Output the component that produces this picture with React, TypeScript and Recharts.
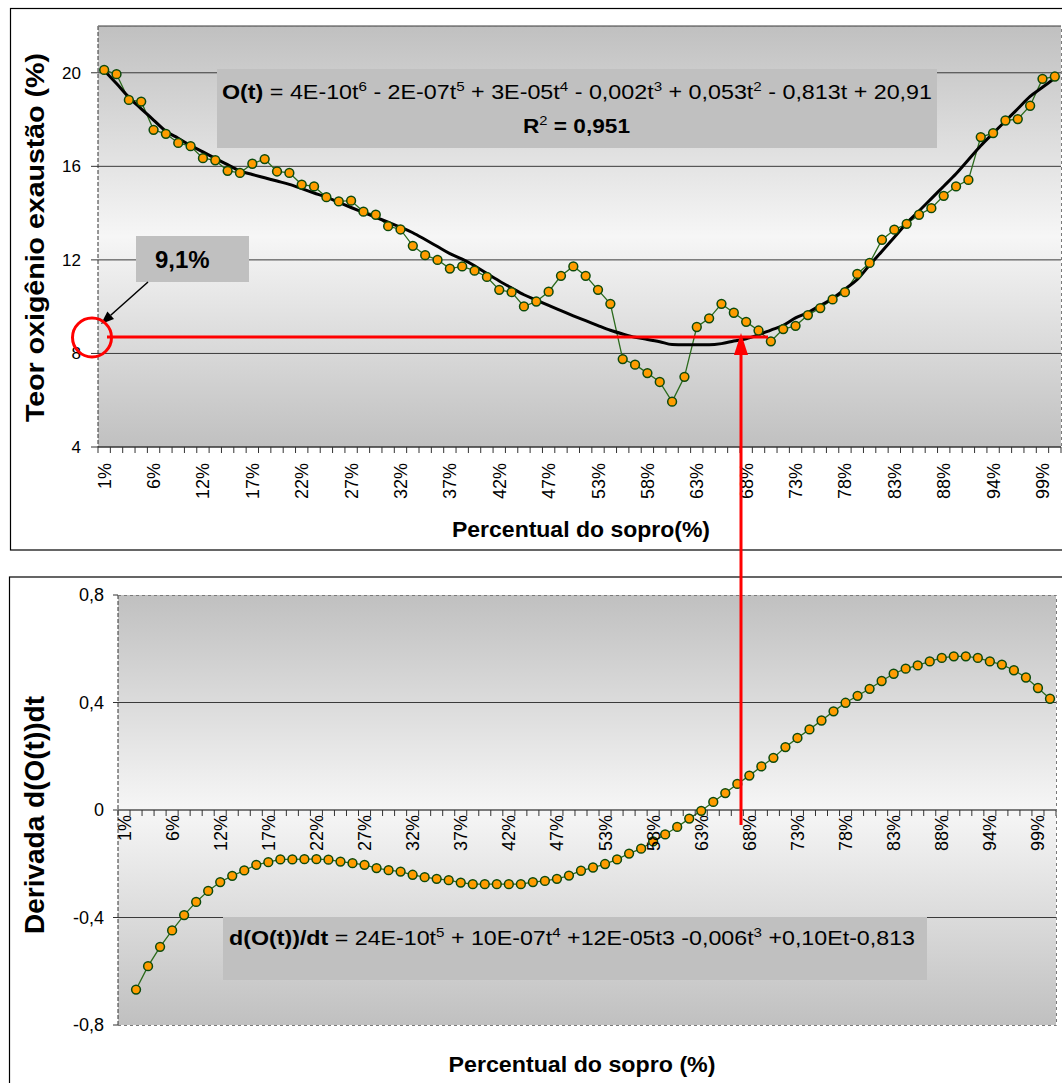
import React from 'react';
import { ComposedChart, Line, XAxis, YAxis, CartesianGrid, ReferenceLine } from 'recharts';

// category labels shown on the x axes (every 4th category)
const tickLabels = ['1%', '6%', '12%', '17%', '22%', '27%', '32%', '37%', '42%', '47%', '53%', '58%', '63%', '68%', '73%', '78%', '83%', '88%', '94%', '99%'];

// oxygen content in the exhaust (%), one value per category
const oxygen = [
  20.12, 19.94, 18.84, 18.77, 17.56, 17.39, 17.0, 16.86, 16.35, 16.26,
  15.81, 15.72, 16.11, 16.31, 15.78, 15.72, 15.22, 15.14, 14.68, 14.5,
  14.53, 14.06, 13.93, 13.44, 13.3, 12.6, 12.2, 12.0, 11.63, 11.72,
  11.54, 11.27, 10.72, 10.62, 10.01, 10.22, 10.64, 11.32, 11.72, 11.32,
  10.72, 10.12, 7.76, 7.52, 7.16, 6.78, 5.94, 7.0, 9.13, 9.5,
  10.12, 9.74, 9.35, 8.98, 8.52, 9.04, 9.18, 9.64, 9.94, 10.31,
  10.62, 11.4, 11.87, 12.86, 13.29, 13.54, 13.93, 14.21, 14.74, 15.14,
  15.42, 17.25, 17.42, 17.96, 18.02, 18.59, 19.74, 19.84,
];

// polynomial trend line as drawn
const trend = [
  20.1, 19.54, 18.95, 18.46, 17.98, 17.5, 17.2, 16.89, 16.62, 16.34,
  16.07, 15.8, 15.65, 15.51, 15.37, 15.23, 15.05, 14.86, 14.68, 14.46,
  14.24, 14.03, 13.82, 13.61, 13.4, 13.16, 12.87, 12.57, 12.27, 12.03,
  11.75, 11.42, 11.1, 10.8, 10.51, 10.28, 10.05, 9.83, 9.61, 9.4,
  9.19, 8.99, 8.83, 8.69, 8.6, 8.5, 8.38, 8.37, 8.37, 8.37,
  8.42, 8.53, 8.63, 8.8, 9.0, 9.2, 9.52, 9.75, 10.05, 10.35,
  10.75, 11.16, 11.78, 12.37, 12.97, 13.57, 14.09, 14.62, 15.15, 15.68,
  16.28, 16.88, 17.41, 17.94, 18.46, 18.99, 19.38, 19.77,
];

// derivative d(O(t))/dt, first category empty
const derivative = [
  null, -0.668, -0.581, -0.509, -0.448, -0.391, -0.342, -0.301, -0.268, -0.245,
  -0.225, -0.204, -0.194, -0.184, -0.184, -0.183, -0.183, -0.185, -0.192, -0.198,
  -0.204, -0.216, -0.224, -0.229, -0.241, -0.25, -0.256, -0.261, -0.27, -0.276,
  -0.276, -0.276, -0.276, -0.276, -0.268, -0.264, -0.256, -0.244, -0.226, -0.214,
  -0.201, -0.184, -0.162, -0.144, -0.117, -0.091, -0.063, -0.032, -0.003, 0.03,
  0.063, 0.097, 0.128, 0.162, 0.194, 0.234, 0.268, 0.3, 0.333, 0.367,
  0.399, 0.425, 0.451, 0.48, 0.507, 0.526, 0.538, 0.553, 0.566, 0.572,
  0.572, 0.566, 0.553, 0.541, 0.52, 0.493, 0.454, 0.414,
];

const topTicksY = [4, 8, 12, 16, 20];
const botTicksY = [-0.8, -0.4, 0, 0.4, 0.8];
const botGrid = [-0.4, 0.4];

// equation texts: [kind, text]  b = bold, n = normal, s = superscript
const topEquation: [string, string][] = [
  ['b', 'O(t)'], ['n', ' = 4E-10t'], ['s', '6'], ['n', ' - 2E-07t'], ['s', '5'],
  ['n', ' + 3E-05t'], ['s', '4'], ['n', ' - 0,002t'], ['s', '3'], ['n', ' + 0,053t'], ['s', '2'],
  ['n', ' - 0,813t + 20,91'],
];
const r2Text: [string, string][] = [['b', 'R'], ['s', '2'], ['b', ' = 0,951']];
const derivEquation: [string, string][] = [
  ['b', 'd(O(t))/dt'], ['n', ' = 24E-10t'], ['s', '5'], ['n', ' + 10E-07t'], ['s', '4'],
  ['n', ' +12E-05t3 -0,006t'], ['s', '3'], ['n', ' +0,10Et-0,813'],
];

const FONT = '"Liberation Sans", Arial, Helvetica, sans-serif';
const N = oxygen.length;

const topData = oxygen.map((v, i) => ({ idx: i, o2: v, trend: trend[i] }));
const botData = derivative.map((v, i) => ({ idx: i, d: v }));
const catTicks = topData.map((d) => d.idx);

const CHART_W = 1100;
const TOP_STEP = (1061 - 98) / N;
const BOT_STEP = (1056 - 118) / N;
const BOT_TOP = 560;

const fmtComma = (v: number) => (v === 0 ? '0' : v.toFixed(1).replace('.', ','));

function catTick(props: any, axisY: number, labelY: number, step: number) {
  const { x, index } = props;
  const half = step / 2;
  return (
    <g>
      <line x1={x - half} x2={x - half} y1={axisY} y2={axisY + 6} stroke="#333" />
      {index === N - 1 && <line x1={x + half} x2={x + half} y1={axisY} y2={axisY + 6} stroke="#333" />}
      {index % 4 === 0 && (
        <text
          transform={`translate(${x + 6.5},${labelY}) rotate(-90)`}
          textAnchor="end"
          fontSize={18}
          fill="#000"
        >
          {tickLabels[index / 4]}
        </text>
      )}
    </g>
  );
}

function richText(parts: [string, string][]) {
  let raised = false;
  return parts.map(([kind, s], k) => {
    if (kind === 's') {
      raised = true;
      return <tspan key={k} dy={-8} fontSize={13}>{s}</tspan>;
    }
    const dy = raised ? 8 : undefined;
    raised = false;
    return <tspan key={k} dy={dy} fontWeight={kind === 'b' ? 'bold' : 'normal'}>{s}</tspan>;
  });
}

const dotStyle = { r: 4.4, fill: '#FF9C00', stroke: '#0d4a0d', strokeWidth: 1.5 };

function TopChart() {
  return (
    <ComposedChart width={CHART_W} height={560} data={topData} margin={{ top: 26, right: 39, bottom: 53, left: 38 }}>
      <defs>
        <linearGradient id="topBg" x1="0" y1="0" x2="0" y2="1">
          <stop offset="0" stopColor="#c0c0c0" />
          <stop offset="0.5" stopColor="#f6f6f6" />
          <stop offset="1" stopColor="#c0c0c0" />
        </linearGradient>
      </defs>
      <CartesianGrid vertical={false} stroke="#3a3a3a" fill="url(#topBg)" />
      <XAxis
        type="number"
        dataKey="idx"
        domain={[-0.5, N - 0.5]}
        ticks={catTicks}
        interval={0}
        height={60}
        axisLine={{ stroke: '#333' }}
        tickLine={false}
        tick={(p: any) => catTick(p, 447, 463, TOP_STEP)}
      />
      <YAxis
        type="number"
        domain={[4, 22]}
        ticks={topTicksY}
        interval={0}
        width={60}
        tickSize={7}
        tickMargin={10}
        axisLine={{ stroke: '#333', strokeDasharray: '4 2' }}
        tickLine={{ stroke: '#333' }}
        tick={{ fontSize: 17, fill: '#000' }}
      />
      <Line dataKey="o2" type="linear" stroke="#2b6a1c" strokeWidth={1.3} dot={dotStyle} activeDot={false} isAnimationActive={false} />
      <Line dataKey="trend" type="monotone" stroke="#000" strokeWidth={3} dot={false} activeDot={false} isAnimationActive={false} />
    </ComposedChart>
  );
}

function BottomChart() {
  return (
    <ComposedChart width={CHART_W} height={523} data={botData} margin={{ top: 35, right: 44, bottom: 28, left: 58 }}>
      <defs>
        <linearGradient id="botBg" x1="0" y1="0" x2="0" y2="1">
          <stop offset="0" stopColor="#c0c0c0" />
          <stop offset="0.5" stopColor="#f6f6f6" />
          <stop offset="1" stopColor="#c0c0c0" />
        </linearGradient>
      </defs>
      <CartesianGrid vertical={false} horizontal={false} fill="url(#botBg)" />
      <XAxis
        type="number"
        dataKey="idx"
        domain={[-0.5, N - 0.5]}
        ticks={catTicks}
        interval={0}
        height={30}
        axisLine={false}
        tickLine={false}
        tick={(p: any) => catTick(p, 810 - BOT_TOP, 815 - BOT_TOP, BOT_STEP)}
      />
      <YAxis
        type="number"
        domain={[-0.8, 0.8]}
        ticks={botTicksY}
        interval={0}
        width={60}
        tickSize={5}
        tickMargin={9}
        tickFormatter={fmtComma}
        axisLine={{ stroke: '#333', strokeDasharray: '4 2' }}
        tickLine={{ stroke: '#333' }}
        tick={{ fontSize: 18, fill: '#000' }}
      />
      {botGrid.map((g) => (
        <ReferenceLine key={g} y={g} stroke="#3a3a3a" />
      ))}
      <ReferenceLine y={0} stroke="#000" />
      <Line dataKey="d" type="linear" stroke="#2b6a1c" strokeWidth={1.3} dot={dotStyle} activeDot={false} isAnimationActive={false} />
    </ComposedChart>
  );
}

function Overlay() {
  return (
    <svg width={1062} height={1083} style={{ position: 'absolute', left: 0, top: 0, pointerEvents: 'none', fontFamily: FONT }}>
      {/* outer frames */}
      <rect x={10.5} y={8.5} width={1100} height={541.5} fill="none" stroke="#000" strokeWidth={1.2} />
      <rect x={9.5} y={577} width={1100} height={600} fill="none" stroke="#000" strokeWidth={1.2} />
      {/* dashed plot borders */}
      <path d="M98,26.5 H1061.5 V447" fill="none" stroke="#7a7a7a" strokeDasharray="3 3" />
      <path d="M118,595.5 H1056.5 V1025.5 H118" fill="none" stroke="#7a7a7a" strokeDasharray="3 3" />

      {/* trend equation */}
      <rect x={217} y={69} width={720} height={79} fill="#c0c0c0" />
      <text x={222} y={99} fontSize={20} fill="#000" textLength={710} lengthAdjust="spacingAndGlyphs">
        {richText(topEquation)}
      </text>
      <text x={523} y={133} fontSize={20} fill="#000" textLength={107} lengthAdjust="spacingAndGlyphs">
        {richText(r2Text)}
      </text>

      {/* 9,1% callout */}
      <rect x={136} y={236} width={113} height={46} fill="#c0c0c0" />
      <text x={155} y={268} fontSize={24} fontWeight="bold" fill="#000">9,1%</text>
      <line x1={148} y1={282} x2={110.7} y2={315.3} stroke="#000" strokeWidth={1.5} />
      <polygon points="101,324 114,319 107.4,311.6" fill="#000" />

      {/* red markers */}
      <circle cx={92} cy={337.5} r={19.5} fill="none" stroke="#ff0000" strokeWidth={3} />
      <line x1={107} y1={337} x2={768} y2={337} stroke="#ff0000" strokeWidth={3} />
      <line x1={741} y1={825} x2={741} y2={352} stroke="#ff0000" strokeWidth={3} />
      <polygon points="741,333 734,355 748,355" fill="#ff0000" />

      {/* derivative equation */}
      <rect x={223} y={917} width={704} height={63} fill="#c0c0c0" />
      <text x={229} y={945} fontSize={20} fill="#000" textLength={686} lengthAdjust="spacingAndGlyphs">
        {richText(derivEquation)}
      </text>

      {/* axis titles */}
      <text transform="translate(43.5,237.5) rotate(-90)" textAnchor="middle" fontSize={26} fontWeight="bold" fill="#000" textLength={369} lengthAdjust="spacingAndGlyphs">
        Teor oxigênio exaustão (%)
      </text>
      <text x={581} y={537} textAnchor="middle" fontSize={22} fontWeight="bold" fill="#000" textLength={258} lengthAdjust="spacingAndGlyphs">
        Percentual do sopro(%)
      </text>
      <text transform="translate(44,815) rotate(-90)" textAnchor="middle" fontSize={28} fontWeight="bold" fill="#000" textLength={238} lengthAdjust="spacingAndGlyphs">
        Derivada d(O(t))dt
      </text>
      <text x={582} y={1072} textAnchor="middle" fontSize={22} fontWeight="bold" fill="#000" textLength={267} lengthAdjust="spacingAndGlyphs">
        Percentual do sopro (%)
      </text>
    </svg>
  );
}

export default function App() {
  return (
    <div style={{ position: 'absolute', left: 0, top: 0, width: 1062, height: 1083, overflow: 'hidden', background: '#fff', fontFamily: FONT }}>
      <div style={{ position: 'absolute', left: 0, top: 0 }}>
        <TopChart />
      </div>
      <div style={{ position: 'absolute', left: 0, top: BOT_TOP }}>
        <BottomChart />
      </div>
      <Overlay />
    </div>
  );
}
